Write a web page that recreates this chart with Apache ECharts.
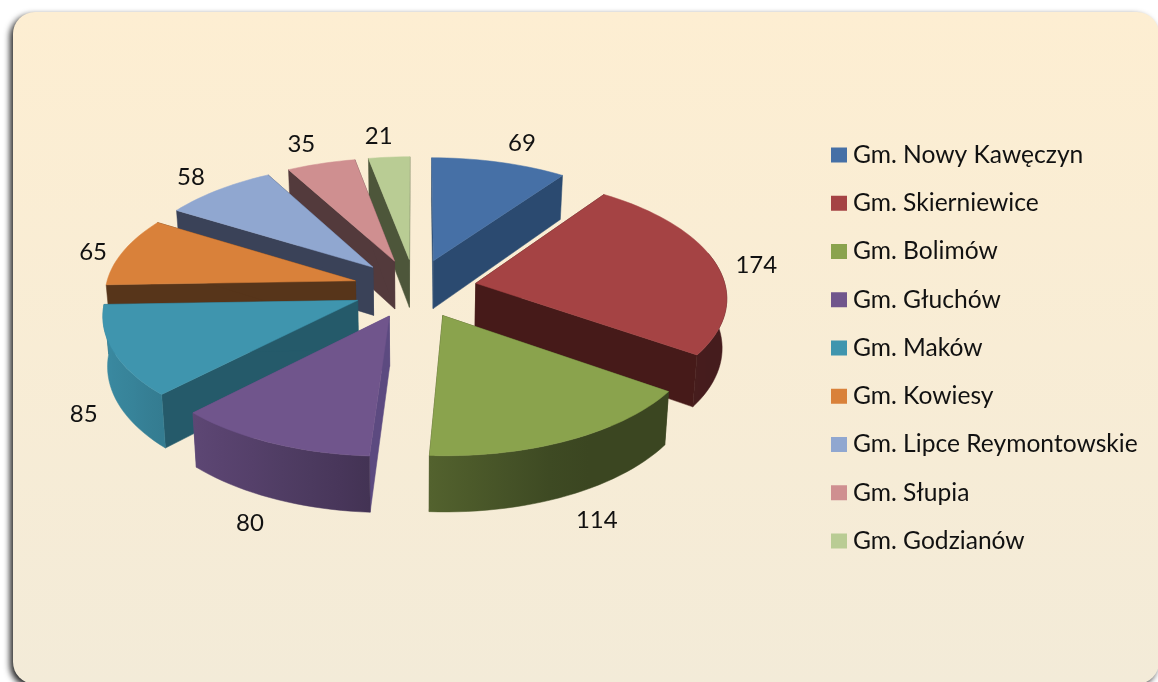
<!DOCTYPE html>
<html><head><meta charset="utf-8">
<style>html,body{margin:0;padding:0;background:#fff}#c{width:1158px;height:682px}</style>
<script src="https://cdn.jsdelivr.net/npm/echarts@6/dist/echarts.min.js"></script>
</head><body><div id="c"></div>
<script>
const categories = ['Gm. Nowy Kawęczyn','Gm. Skierniewice','Gm. Bolimów','Gm. Głuchów','Gm. Maków','Gm. Kowiesy','Gm. Lipce Reymontowskie','Gm. Słupia','Gm. Godzianów'];
const values = [69,174,114,80,85,65,58,35,21];
const topColors = ['#4670a6','#a54344','#8aa34d','#70558c','#3f95ae','#d9813a','#90a7d0','#cf8f90','#b9cc94'];
const cutColors = ['#2b4a70','#461a19','#3c4520','#5c4a80','#255a6a','#57351a','#3a4258','#533a3c','#4d563a'];

// projection of the tilted pie
const view = {cx:415, cy:288.3, rx:250, ry:119.3, persp:0.105, explode:0.248, depth:49, shrink:0.985};
const total = values.reduce((a,b)=>a+b,0);
const rad = d => d*Math.PI/180;
function project(px,py,bottom){
  const f = 1/(1+view.persp*py);
  let x = view.cx + view.rx*px*f, y = view.cy - view.ry*py*f;
  if(bottom){ x = view.cx+(x-view.cx)*view.shrink; y += view.depth*f; }
  return [x,y];
}
function shade(a){ // light factor of the outer wall by facing angle
  const t=[[80,.42],[150,.43],[183,.6],[224,.83],[280,.95]];
  if(a<=t[0][0])return t[0][1];
  for(let i=1;i<t.length;i++) if(a<=t[i][0]){const k=(a-t[i-1][0])/(t[i][0]-t[i-1][0]);return t[i-1][1]+k*(t[i][1]-t[i-1][1]);}
  return t[t.length-1][1];
}
function mul(hex,k){
  const n=parseInt(hex.slice(1),16);
  const c=s=>Math.round(((n>>s)&255)*k);
  return `rgb(${c(16)},${c(8)},${c(0)})`;
}
const slices=[]; let acc=0;
values.forEach((v,i)=>{const a0=acc/total*360; acc+=v; const a1=acc/total*360; slices.push({a0,a1,m:(a0+a1)/2});});
const rankY = slices.map((s,i)=>({i,y:project(view.explode*Math.sin(rad(s.m)),view.explode*Math.cos(rad(s.m)))[1]})).sort((a,b)=>a.y-b.y);
const zOf = {}; rankY.forEach((r,k)=>zOf[r.i]=k+2);

function renderSlice(i){
  return function(params,api){
    const v = api.value(0);
    const {a0,a1,m} = slices[i];
    const ex = view.explode*Math.sin(rad(m)), ey = view.explode*Math.cos(rad(m));
    const pt = (a,b)=>project(ex+Math.sin(rad(a)),ey+Math.cos(rad(a)),b);
    const tipT = project(ex,ey,false), tipB = project(ex,ey,true);
    const arc = (from,to,b)=>{const n=Math.max(2,Math.ceil((to-from)/2)),r=[];for(let k=0;k<=n;k++)r.push(pt(from+(to-from)*k/n,b));return r;};
    const kids=[];
    const poly=(points,fill,z2)=>kids.push({type:'polygon',z2,shape:{points},style:{fill,stroke:fill,lineWidth:.5}});
    // cut faces
    poly([tipT,pt(a0,false),pt(a0,true),tipB],cutColors[i],1);
    poly([tipT,pt(a1,false),pt(a1,true),tipB],cutColors[i],1);
    // outer wall, visible part only
    const w0=Math.max(a0,75), w1=Math.min(a1,268.5);
    if(w1>w0+2){
      const top=arc(w0,w1,false), bot=arc(w0,w1,true).reverse();
      const xs=[pt(w0,false)[0],pt(w1,false)[0]];
      const stops=[]; const N=6;
      for(let k=0;k<=N;k++){stops.push({offset:k/N,color:mul(topColors[i],shade(w0+(w1-w0)*k/N))});}
      poly(top.concat(bot),{type:'linear',global:true,x:xs[0],y:0,x2:xs[1],y2:0,colorStops:stops},2);
    }
    // top face
    poly([tipT].concat(arc(a0,a1,false)),topColors[i],3);
    // value label
    const sm=Math.sin(rad(m)), cm=Math.cos(rad(m));
    const edge=project(ex+sm,ey+cm,false);
    const side=sm>0?41:34;
    const lx=edge[0]+Math.sign(sm)*Math.sqrt(Math.abs(sm))*side+(sm<0?4*Math.pow(sm,4):0);
    const f=1/(1+view.persp*(ey+cm));
    const ly=edge[1]-(cm>0?21*cm:27*cm)+6*(1-cm*cm)*(cm>0?1:0)+(cm<0?view.depth*f:0);
    kids.push({type:'text',z2:9,style:{text:String(v),x:lx,y:ly,align:'center',verticalAlign:'middle',fill:'#111',fontSize:24,fontFamily:'Lato'}});
    return {type:'group',children:kids};
  };
}

const chart = echarts.init(document.getElementById('c'),null,{renderer:'canvas'});
chart.setOption({
  animation:false,
  backgroundColor:'#fff',
  graphic:[{type:'rect',z:-1,silent:true,shape:{x:13,y:12,width:1146,height:672,r:22},
    style:{fill:{type:'linear',x:0,y:0,x2:0,y2:1,colorStops:[{offset:0,color:'#fdeed2'},{offset:1,color:'#f3ebd8'}]},
      shadowBlur:6,shadowColor:'rgba(0,0,0,.85)',shadowOffsetX:-3,shadowOffsetY:3}}],
  legend:{orient:'vertical',left:831,top:141,padding:0,icon:'rect',itemWidth:16,itemHeight:15,itemGap:20.25,
    data:categories,selectedMode:false,
    textStyle:{fontFamily:'Lato',fontSize:24.6,color:'#111',padding:[0,0,0,1],lineHeight:28}},
  series:categories.map((name,i)=>({
    type:'custom',name,coordinateSystem:'none',z:zOf[i],clip:false,silent:true,
    itemStyle:{color:topColors[i]},
    data:[[values[i]]],
    renderItem:renderSlice(i)
  }))
});
</script></body></html>
